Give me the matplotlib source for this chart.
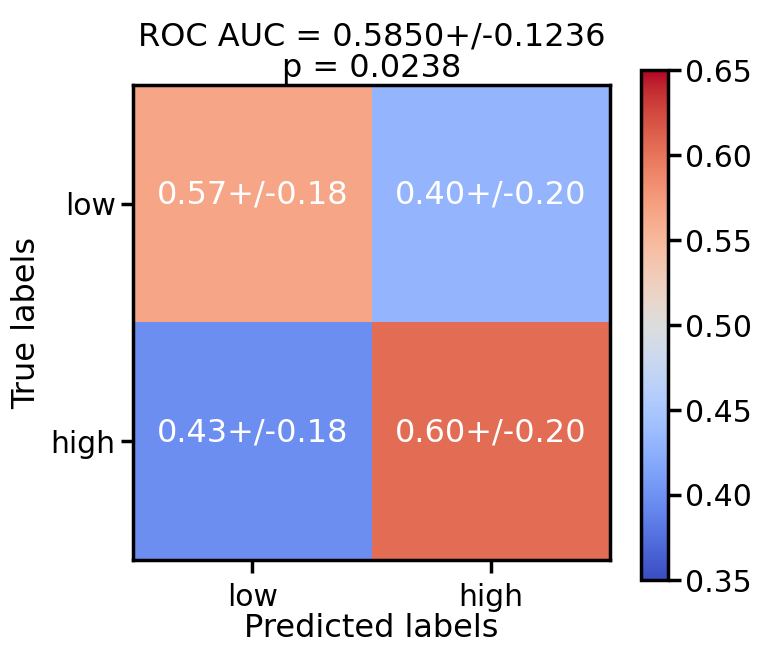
import matplotlib
matplotlib.use("Agg")
import matplotlib.pyplot as plt
import numpy as np
import seaborn as sns

sns.set_context("talk")

classes = ["low", "high"]
color_values = [[0.565, 0.432],
                [0.398, 0.605]]
annot_means = [[0.57, 0.40],
               [0.43, 0.60]]
annot_stds = [[0.18, 0.20],
              [0.18, 0.20]]
roc_auc_mean = 0.5850
roc_auc_std = 0.1236
p_value = 0.0238
vmin, vmax = 0.35, 0.65

fig = plt.figure(figsize=(7.57, 6.48), dpi=100)
ax = fig.add_axes([133/757, 1 - 560/648, 477/757, 475/648])
cax = fig.add_axes([641/757, 1 - 580/648, 27/757, 510/648])

data = np.array(color_values)
im = ax.imshow(data, cmap="coolwarm", vmin=vmin, vmax=vmax, aspect="auto")
for i in range(len(classes)):
    for j in range(len(classes)):
        ax.text(j, i, f"{annot_means[i][j]:.2f}+/-{annot_stds[i][j]:.2f}",
                ha="center", va="baseline", color="white", fontsize=23)

ax.set_xticks(range(len(classes)))
ax.set_xticklabels(classes)
ax.set_yticks(range(len(classes)))
ax.set_yticklabels(classes)
ax.set_xlabel("Predicted labels", fontsize=23, labelpad=1)
ax.set_ylabel("True labels", fontsize=23, labelpad=6)
ax.set_title(f"ROC AUC = {roc_auc_mean:.4f}+/-{roc_auc_std:.4f}\np = {p_value:.4f}",
             fontsize=23, linespacing=1.0, pad=6)
for s in ax.spines.values():
    s.set_linewidth(2.5)
ax.tick_params(width=2.5, length=9, labelsize=21.5)
ax.tick_params(axis="x", pad=7.5)

cb = fig.colorbar(im, cax=cax)
cb.set_ticks(np.arange(0.35, 0.651, 0.05))
cb.ax.tick_params(width=2.5, length=9, labelsize=21.5)
cb.outline.set_linewidth(2.5)

fig.savefig("out.png", dpi=100)
